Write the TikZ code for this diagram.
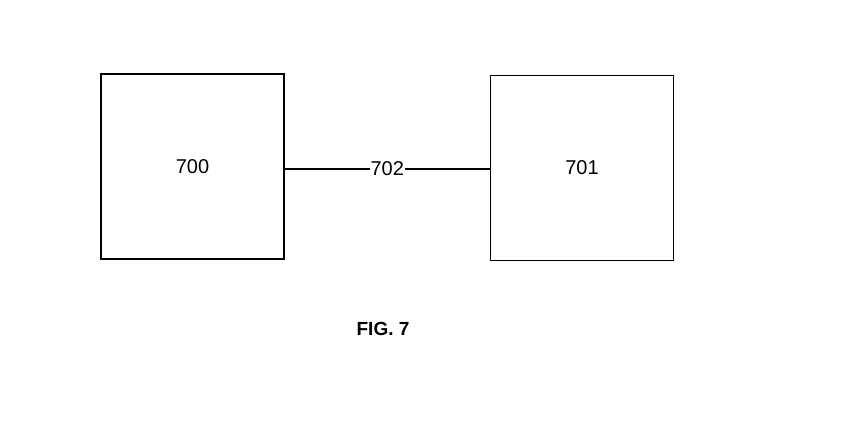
\documentclass[tikz,border=0pt]{standalone}
\usepackage{fontspec}
\setmainfont{Liberation Sans}
\begin{document}
\begin{tikzpicture}[x=1pt,y=-1pt,
  box/.style={draw,line width=1.2pt,minimum width=183pt,minimum height=185pt,inner sep=0pt,font=\fontsize{20}{24}\selectfont},
  lbl/.style={fill=white,inner sep=1pt,font=\fontsize{20}{24}\selectfont}]
\useasboundingbox (0,0) rectangle (848,420);
\node[box] (a) at (192.5,166.5) {700};
\node[box] (b) at (582,168) {701};
\draw[line width=1.1pt] (a.east |- 0,169) -- node[lbl] (l) {702} (b.west |- 0,169);
\node[font=\bfseries\fontsize{19}{22}\selectfont] (f) at (383,329) {FIG. 7};
\end{tikzpicture}
\end{document}
